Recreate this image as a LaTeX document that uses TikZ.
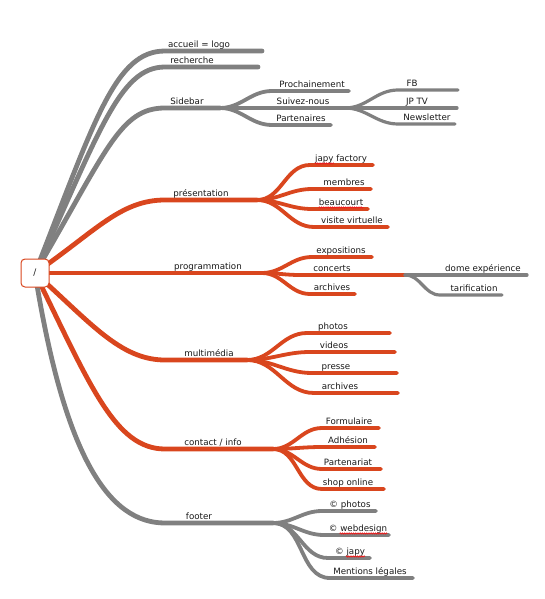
\documentclass[tikz,border=0pt]{standalone}
\usepackage{fontspec}
\setmainfont{DejaVu Sans}
\usetikzlibrary{backgrounds,decorations.pathmorphing}
\definecolor{orc}{RGB}{217,70,30}
\definecolor{gryc}{RGB}{128,128,128}
\definecolor{txtc}{RGB}{25,25,25}
\definecolor{spellc}{RGB}{235,30,30}
\begin{document}
\begin{tikzpicture}[x=1pt,y=-1pt,
  lbl/.style={anchor=base,inner sep=0pt,text=txtc,font=\fontsize{8.7}{10}\selectfont},
  rootbox/.style={draw=orc,line width=1pt,fill=white,rounded corners=4pt,minimum width=28pt,minimum height=28pt,inner sep=0pt,text=txtc,font=\fontsize{9}{10}\selectfont},
  gmain/.style={draw=gryc,line width=4.8pt,line cap=round},
  omain/.style={draw=orc,line width=4.8pt,line cap=round},
  gsub/.style={draw=gryc,line width=3.8pt,line cap=round},
  osub/.style={draw=orc,line width=3.8pt,line cap=round},
  gsubb/.style={draw=gryc,line width=3.2pt,line cap=round},
  fan/.style={out=0,in=180},
  spell/.style={draw=spellc,line width=0.8pt,decorate,decoration={snake,amplitude=0.6pt,segment length=2.2pt}}]
\useasboundingbox (0,0) rectangle (544,599);

\node[rootbox] (root) at (35,273) {/};

% ---------- labels ----------
\node[lbl] (acc)    at (199,47.5)  {accueil = logo};
\node[lbl] (rech)   at (192,63.5)  {recherche};
\node[lbl] (side)   at (187,104.5) {Sidebar};
\node[lbl] (proch)  at (312,87.5)  {Prochainement};
\node[lbl] (suiv)   at (303,104.5) {Suivez-nous};
\node[lbl] (partA)  at (301,121.5) {Partenaires};
\node[lbl] (fb)     at (412,86.5)  {FB};
\node[lbl] (jptv)   at (417,104.5) {JP TV};
\node[lbl] (news)   at (427,120.5) {Newsletter};

\node[lbl] (pres)   at (201,196.5) {présentation};
\node[lbl] (japy)   at (341,161.5) {japy factory};
\node[lbl] (memb)   at (344,185.5) {membres};
\node[lbl] (beau)   at (341,205.5) {beaucourt};
\node[lbl] (visite) at (352,223.5) {visite virtuelle};

\node[lbl] (prog)   at (208,269.5) {programmation};
\node[lbl] (expo)   at (341,253.5) {expositions};
\node[lbl] (conc)   at (332,271.5) {concerts};
\node[lbl] (dome)   at (483,271.5) {dome expérience};
\node[lbl] (tarif)  at (474,291.5) {tarification};
\node[lbl] (archA)  at (332,290.5) {archives};

\node[lbl] (multi)  at (209,356.5) {multimédia};
\node[lbl] (photos) at (333,329.5) {photos};
\node[lbl] (videos) at (334,348.5) {videos};
\node[lbl] (presse) at (336,369.5) {presse};
\node[lbl] (archB)  at (340,389.5) {archives};

\node[lbl] (contact) at (213,445.5) {contact / info};
\node[lbl] (form)   at (349,424.5) {Formulaire};
\node[lbl] (adh)    at (348,443.5) {Adhésion};
\node[lbl] (partB)  at (348,465.5) {Partenariat};
\node[lbl] (shop)   at (348,485.5) {shop online};

\node[lbl] (footer) at (199,519.5) {footer};
\node[lbl] (cphot)  at (350,507.5) {© photos};
\node[lbl] (cweb)   at (358,531.5) {© webdesign};
\node[lbl] (cjapy)  at (350,554.5) {© japy};
\node[lbl] (ment)   at (370,574.5) {Mentions légales};

% ---------- coordinates ----------
\coordinate (acc-s) at (165,51);   \coordinate (acc-e) at (262,51);
\coordinate (rech-s) at (165,67);  \coordinate (rech-e) at (258,67);
\coordinate (side-s) at (165,108); \coordinate (side-x) at (220,108);
\coordinate (proch-s) at (272,91); \coordinate (proch-e) at (349,91);
\coordinate (suiv-x) at (345,108);
\coordinate (partA-s) at (272,125); \coordinate (partA-e) at (331,125);
\coordinate (fb-s) at (398,90);    \coordinate (fb-e) at (458,90);
\coordinate (jptv-e) at (457,108);
\coordinate (news-s) at (398,124); \coordinate (news-e) at (455,124);

\coordinate (pres-s) at (165,200); \coordinate (pres-x) at (257,200);
\coordinate (japy-s) at (310,165); \coordinate (japy-e) at (373,165);
\coordinate (memb-s) at (312,189); \coordinate (memb-e) at (371,189);
\coordinate (beau-s) at (312,209); \coordinate (beau-e) at (368,209);
\coordinate (visite-s) at (314,227); \coordinate (visite-e) at (388,227);

\coordinate (prog-x) at (262,273);
\coordinate (expo-s) at (312,257); \coordinate (expo-e) at (372,257);
\coordinate (conc-s) at (300,275); \coordinate (conc-x) at (405,275);
\coordinate (dome-e) at (527,275);
\coordinate (tarif-s) at (440,295); \coordinate (tarif-e) at (502,295);
\coordinate (archA-s) at (310,294); \coordinate (archA-e) at (355,294);

\coordinate (multi-s) at (165,360); \coordinate (multi-x) at (247,360);
\coordinate (photos-s) at (307,333); \coordinate (photos-e) at (390,333);
\coordinate (videos-s) at (310,352); \coordinate (videos-e) at (395,352);
\coordinate (presse-s) at (312,373); \coordinate (presse-e) at (397,373);
\coordinate (archB-s) at (314,393); \coordinate (archB-e) at (398,393);

\coordinate (contact-s) at (165,449); \coordinate (contact-x) at (273,449);
\coordinate (form-s) at (322,428); \coordinate (form-e) at (379,428);
\coordinate (adh-s) at (322,447);  \coordinate (adh-e) at (375,447);
\coordinate (partB-s) at (322,469); \coordinate (partB-e) at (381,469);
\coordinate (shop-s) at (322,489); \coordinate (shop-e) at (384,489);

\coordinate (footer-s) at (165,523); \coordinate (footer-x) at (273,523);
\coordinate (cphot-s) at (322,511); \coordinate (cphot-e) at (376,511);
\coordinate (cweb-s) at (324,535);  \coordinate (cweb-e) at (389,535);
\coordinate (cjapy-s) at (328,558); \coordinate (cjapy-e) at (370,558);
\coordinate (ment-s) at (330,578);  \coordinate (ment-e) at (413,578);

% ---------- connectors ----------
\begin{scope}[on background layer]
% root branches
\draw[gmain] (root.center) .. controls (95,120) and (115,51) .. (acc-s) -- (acc-e);
\draw[gmain] (root.center) .. controls (100,130) and (120,67) .. (rech-s) -- (rech-e);
\draw[gmain] (root.center) .. controls (107,150) and (120,108) .. (side-s) -- (side-x);
\draw[omain] (root.center) .. controls (95,232) and (120,200) .. (pres-s) -- (pres-x);
\draw[omain] (root.center) -- (prog-x);
\draw[omain] (root.center) .. controls (90,322) and (120,360) .. (multi-s) -- (multi-x);
\draw[omain] (root.center) .. controls (90,385) and (115,449) .. (contact-s) -- (contact-x);
\draw[gmain] (root.center) .. controls (65,460) and (110,523) .. (footer-s) -- (footer-x);

% Sidebar
\draw[gsub] (side-x) to[fan] (proch-s) -- (proch-e);
\draw[gsub] (side-x) -- (suiv-x);
\draw[gsub] (side-x) to[fan] (partA-s) -- (partA-e);
\draw[gsubb] (suiv-x) to[fan] (fb-s) -- (fb-e);
\draw[gsubb] (suiv-x) -- (jptv-e);
\draw[gsubb] (suiv-x) to[fan] (news-s) -- (news-e);

% présentation
\draw[osub] (pres-x) to[fan] (japy-s) -- (japy-e);
\draw[osub] (pres-x) to[fan] (memb-s) -- (memb-e);
\draw[osub] (pres-x) to[fan] (beau-s) -- (beau-e);
\draw[osub] (pres-x) to[fan] (visite-s) -- (visite-e);

% programmation
\draw[osub] (prog-x) to[fan] (expo-s) -- (expo-e);
\draw[osub] (prog-x) to[fan] (conc-s) -- (conc-x);
\draw[osub] (prog-x) to[fan] (archA-s) -- (archA-e);
\draw[gsubb] (conc-x) -- (dome-e);
\draw[gsubb] (conc-x) to[fan] (tarif-s) -- (tarif-e);

% multimédia
\draw[osub] (multi-x) to[fan] (photos-s) -- (photos-e);
\draw[osub] (multi-x) to[fan] (videos-s) -- (videos-e);
\draw[osub] (multi-x) to[fan] (presse-s) -- (presse-e);
\draw[osub] (multi-x) to[fan] (archB-s) -- (archB-e);

% contact
\draw[osub] (contact-x) to[fan] (form-s) -- (form-e);
\draw[osub] (contact-x) to[fan] (adh-s) -- (adh-e);
\draw[osub] (contact-x) to[fan] (partB-s) -- (partB-e);
\draw[osub] (contact-x) to[fan] (shop-s) -- (shop-e);

% footer
\draw[gsub] (footer-x) to[fan] (cphot-s) -- (cphot-e);
\draw[gsub] (footer-x) to[fan] (cweb-s) -- (cweb-e);
\draw[gsub] (footer-x) to[fan] (cjapy-s) -- (cjapy-e);
\draw[gsub] (footer-x) to[fan] (ment-s) -- (ment-e);
\end{scope}

% spell-check underlines
\draw[spell] ([yshift=-2pt]japy.base west) -- ++(19,0);
\draw[spell] ([yshift=-2pt]beau.base west) -- ([yshift=-2pt]beau.base east);
\draw[spell] ([xshift=11pt,yshift=-2pt]cweb.base west) -- ([yshift=-2pt]cweb.base east);
\draw[spell] ([xshift=11pt,yshift=-2pt]cjapy.base west) -- ([yshift=-2pt]cjapy.base east);
\end{tikzpicture}
\end{document}
